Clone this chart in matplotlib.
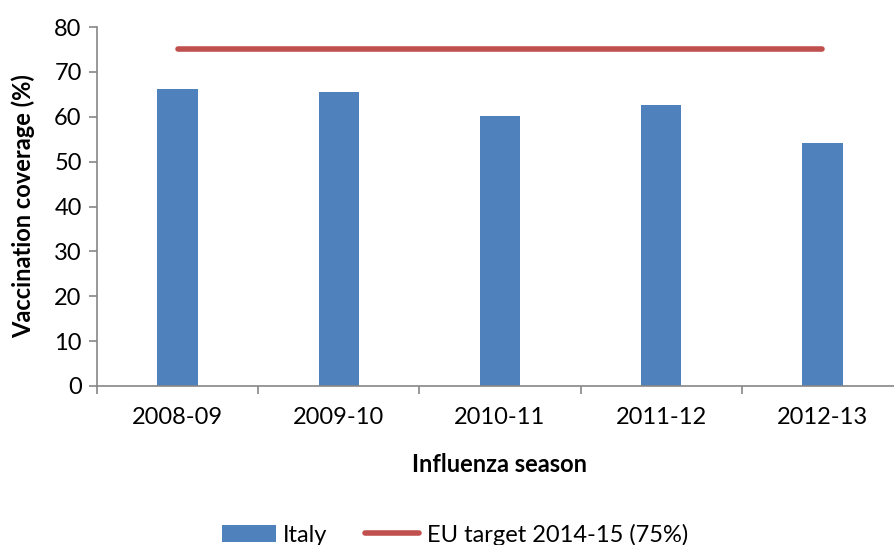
import matplotlib.pyplot as plt
from matplotlib.ticker import FixedLocator

plt.rcParams['font.family'] = ['Lato', 'DejaVu Sans']

# data
seasons = ['2008-09', '2009-10', '2010-11', '2011-12', '2012-13']
italy = [66.1, 65.5, 60.1, 62.7, 54.1]
eu_target = [75, 75, 75, 75, 75]

fig = plt.figure(figsize=(8.95, 5.45), dpi=100)
ax = fig.add_axes([97 / 895, 1 - 386 / 545, 806 / 895, 359 / 545])

x = list(range(len(seasons)))
bars = ax.bar(x, italy, width=0.25, color='#4F81BD', label='Italy', zorder=2)
line, = ax.plot(x, eu_target, color='#C0504D', lw=4, solid_capstyle='round',
                label='EU target 2014-15 (75%)', zorder=3)

ax.set_xlim(-0.5, 4.5)
ax.set_ylim(0, 80)
ax.set_yticks(range(0, 81, 10))
ax.set_xticks(x)
ax.set_xticklabels(seasons)
ax.xaxis.set_minor_locator(FixedLocator([i - 0.5 for i in range(len(seasons) + 1)]))

for s in ['top', 'right']:
    ax.spines[s].set_visible(False)
for s in ['left', 'bottom']:
    ax.spines[s].set_color('#868686')
    ax.spines[s].set_linewidth(1.2)

ax.tick_params(axis='y', length=6, width=1.2, color='#868686', labelsize=17, pad=5)
ax.tick_params(axis='x', which='major', length=0, labelsize=17, pad=15)
ax.tick_params(axis='x', which='minor', length=6, width=1.2, color='#868686')

ax.set_ylabel('Vaccination coverage (%)', fontsize=17, fontweight='bold', labelpad=14)
ax.set_xlabel('Influenza season', fontsize=17, fontweight='bold', labelpad=18)

fig.legend([bars, line], ['Italy', 'EU target 2014-15 (75%)'],
           loc='lower center', bbox_to_anchor=(0.508, -0.04), ncol=2, frameon=False,
           fontsize=17, handlelength=2.3, handleheight=0.7, handletextpad=0.3,
           columnspacing=1.6)

fig.savefig('out.png', dpi=100)
